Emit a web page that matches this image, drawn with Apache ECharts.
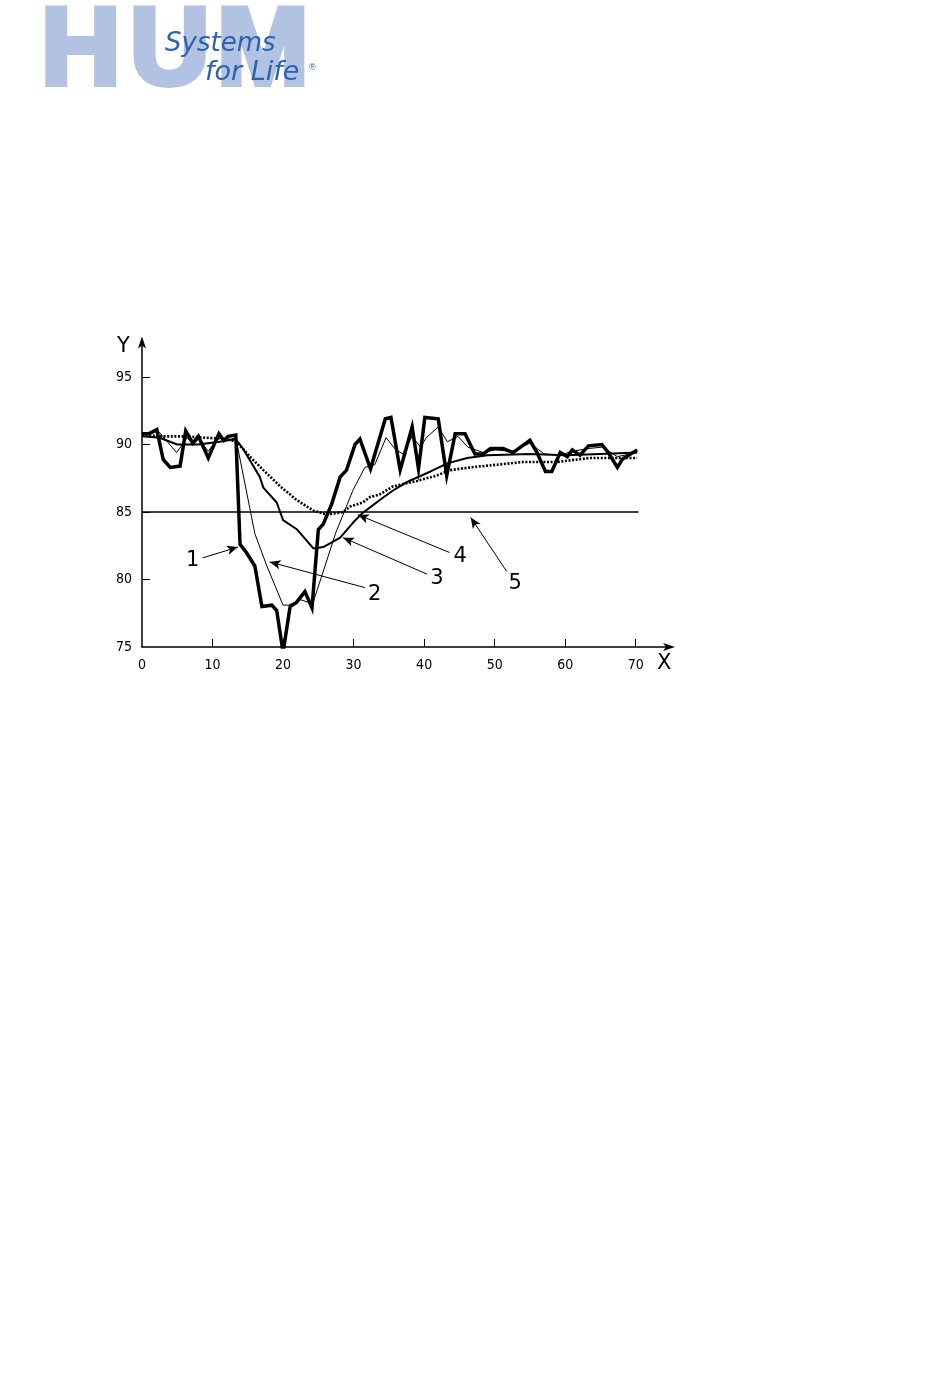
<!DOCTYPE html>
<html><head><meta charset="utf-8">
<script src="https://cdn.jsdelivr.net/npm/echarts@6/dist/echarts.min.js"></script>
<style>html,body{margin:0;padding:0;background:#fff}#c{width:950px;height:1398px}</style>
</head><body><div id="c"></div>
<script>
// Series 1 (thick, raw)
const s1x=[0,1,2.1,3,4,5.4,6.2,7.2,8,9.4,10.9,11.6,12.2,13.3,13.9,14.8,16,17,18.4,19.1,20,21,21.9,23.1,24.1,25,25.7,26.9,28.1,29,30.2,30.9,32.4,34.5,35.3,36.6,38.3,39.2,40.1,42,43.2,44.4,45.8,47.2,48.4,49.4,51.2,52.6,55,56,57.2,58.1,59.3,60.3,61,62.1,63.3,65.2,66.1,67.4,68.1,70.2];
const s1y=[90.8,90.8,91.1,88.9,88.3,88.4,91.0,90.1,90.6,89.0,90.8,90.3,90.6,90.7,82.6,82.0,81.0,78.0,78.1,77.7,74.6,78.0,78.3,79.1,77.9,83.7,84.1,85.6,87.6,88.1,90.0,90.4,88.2,91.9,92.0,88.1,91.3,88.2,92.0,91.9,87.7,90.8,90.8,89.3,89.3,89.7,89.7,89.4,90.3,89.4,88.0,88.0,89.4,89.1,89.6,89.2,89.9,90.0,89.4,88.3,88.9,89.6];
// Series 2 (thin)
const s2x=[0,2.3,4.9,6.4,7.3,8,9.4,10.8,12.2,13.3,16,17.7,20,20.8,22.5,24.2,27.5,29.9,31.6,33,34.6,36,37,38.3,39.5,40.3,42,43.3,44.8,46.2,48.4,50,52.5,55,57,59.3,61,63.3,65.2,67.4,70.2];
const s2y=[90.8,91.0,89.4,90.5,90.0,90.4,89.5,90.5,90.3,90.5,83.4,81.0,78.1,78.1,78.5,78.2,83.5,86.6,88.3,88.5,90.5,89.6,89.3,90.6,89.8,90.5,91.3,90.2,90.6,89.8,89.4,89.6,89.5,90.1,89.3,89.2,89.5,89.7,89.8,89.1,89.4];
// Series 3 (medium)
const s3x=[0,2.5,5,8,11,13.3,14.3,16.7,17.2,19.1,20,22,24.3,25.7,28.1,29.9,31.2,34,35.9,37.5,40.9,43.3,46.1,49,55,60,65,70.2];
const s3y=[90.6,90.5,90.0,90.0,90.2,90.4,89.7,87.6,86.8,85.7,84.4,83.7,82.3,82.4,83.1,84.2,84.9,86.0,86.7,87.2,88.0,88.6,89.0,89.2,89.3,89.2,89.3,89.4];
// Series 4 (dotted)
const s4x=[0,3,6,9,12,13.4,15.3,17.2,19.6,21.9,24.3,26.2,28.5,29.5,31.3,32.3,33.7,35.6,39,41.8,43.7,46.5,50.3,54,58.8,63.5,70.2];
const s4y=[90.7,90.6,90.6,90.5,90.4,90.2,89.1,88.1,86.9,85.9,85.1,84.8,85.0,85.4,85.7,86.1,86.3,86.9,87.3,87.7,88.1,88.3,88.5,88.7,88.7,89.0,89.0];
// Line 5 (limit)
const s5x=[0,70.4];
const s5y=[85,85];
// Tick values
const xTicks=[0,10,20,30,40,50,60,70];
const yTicks=[75,80,85,90,95];
// Callout labels and arrow (from -> to) in data units
const calloutText=['1','2','3','4','5'];
const calloutPos=[[7.2,81.4],[33.0,78.9],[41.8,80.1],[45.1,81.7],[52.9,79.7]];
const arrowFrom=[[8.6,81.6],[31.6,79.4],[40.4,80.4],[43.6,82.0],[51.7,80.6]];
const arrowTo=[[13.6,82.4],[18.1,81.3],[28.5,83.1],[30.6,84.8],[46.6,84.6]];

const zip=(xs,ys)=>xs.map((x,i)=>[x,ys[i]]);
const FONT='"DejaVu Sans Condensed","Liberation Sans Narrow","DejaVu Sans",sans-serif';
const LOGO_FONT='bold 110px "Liberation Sans", Arial, sans-serif';
const LOGO_STYLE=(t)=>({text:t,font:LOGO_FONT,fill:'#b2c2e2',stroke:'#b2c2e2',lineWidth:6,lineJoin:'round'});
const chart=echarts.init(document.getElementById('c'),null,{renderer:'canvas'});
chart.setOption({
  backgroundColor:'#fff',
  animation:false,
  grid:{left:142,top:340.5,width:529,height:306.5,containLabel:false},
  xAxis:{type:'value',min:0,max:75,interval:10,
    axisLine:{show:true,lineStyle:{color:'#000',width:1.5},symbol:['none','arrow'],symbolSize:[6,12],symbolOffset:[0,4]},
    axisTick:{show:true,inside:true,length:8,lineStyle:{color:'#000',width:1},customValues:xTicks.slice(1)},
    axisLabel:{color:'#000',fontFamily:FONT,fontSize:14,margin:11,customValues:xTicks},
    splitLine:{show:false}},
  yAxis:{type:'value',min:75,max:97.7,interval:5,
    axisLine:{show:true,lineStyle:{color:'#000',width:1.5},symbol:['none','arrow'],symbolSize:[6,12],symbolOffset:[0,4]},
    axisTick:{show:true,inside:true,length:8,lineStyle:{color:'#000',width:1},customValues:yTicks.slice(1)},
    axisLabel:{color:'#000',fontFamily:FONT,fontSize:14,margin:10,customValues:yTicks},
    splitLine:{show:false}},
  graphic:[
    {type:'text',left:38,top:-4,style:LOGO_STYLE('H')},
    {type:'text',left:127,top:-4,style:LOGO_STYLE('U')},
    {type:'text',left:214,top:-4,style:LOGO_STYLE('M')},
    {type:'text',left:165,top:31,style:{text:'Systems',font:'italic 26px "DejaVu Sans",sans-serif',fill:'#2d62b0'}},
    {type:'text',left:205,top:59,style:{text:'for Life',font:'italic 27px "DejaVu Sans",sans-serif',fill:'#2d62b0'}},
    {type:'text',left:309,top:63,style:{text:'®',font:'9px sans-serif',fill:'#2d62b0'}},
    {type:'text',left:117,top:336,style:{text:'Y',font:'21px "DejaVu Sans",sans-serif',fill:'#000'}},
    {type:'text',left:657,top:653,style:{text:'X',font:'21px "DejaVu Sans",sans-serif',fill:'#000'}}
  ],
  series:[
    {type:'line',data:zip(s4x,s4y),symbol:'none',z:2,lineStyle:{color:'#000',width:2.6,type:[2,1.6]}},
    {type:'line',data:zip(s3x,s3y),symbol:'none',z:3,lineStyle:{color:'#000',width:2}},
    {type:'line',data:zip(s2x,s2y),symbol:'none',z:4,lineStyle:{color:'#000',width:1}},
    {type:'line',data:zip(s1x,s1y),symbol:'none',z:5,lineStyle:{color:'#000',width:3.5,join:'miter'}},
    {type:'line',data:zip(s5x,s5y),symbol:'none',z:6,lineStyle:{color:'#000',width:1.6},
      markLine:{silent:true,symbol:['none','arrow'],symbolSize:[7,11],
        lineStyle:{color:'#000',width:1,type:'solid'},label:{show:false},
        data:arrowFrom.map((f,i)=>[{coord:f},{coord:arrowTo[i]}])},
      markPoint:{silent:true,symbol:'circle',symbolSize:0,
        label:{show:true,position:'inside',color:'#000',fontFamily:'"DejaVu Sans",sans-serif',fontSize:21,formatter:p=>p.name},
        data:calloutPos.map((c,i)=>({name:calloutText[i],coord:c}))}}
  ]
});
</script></body></html>
